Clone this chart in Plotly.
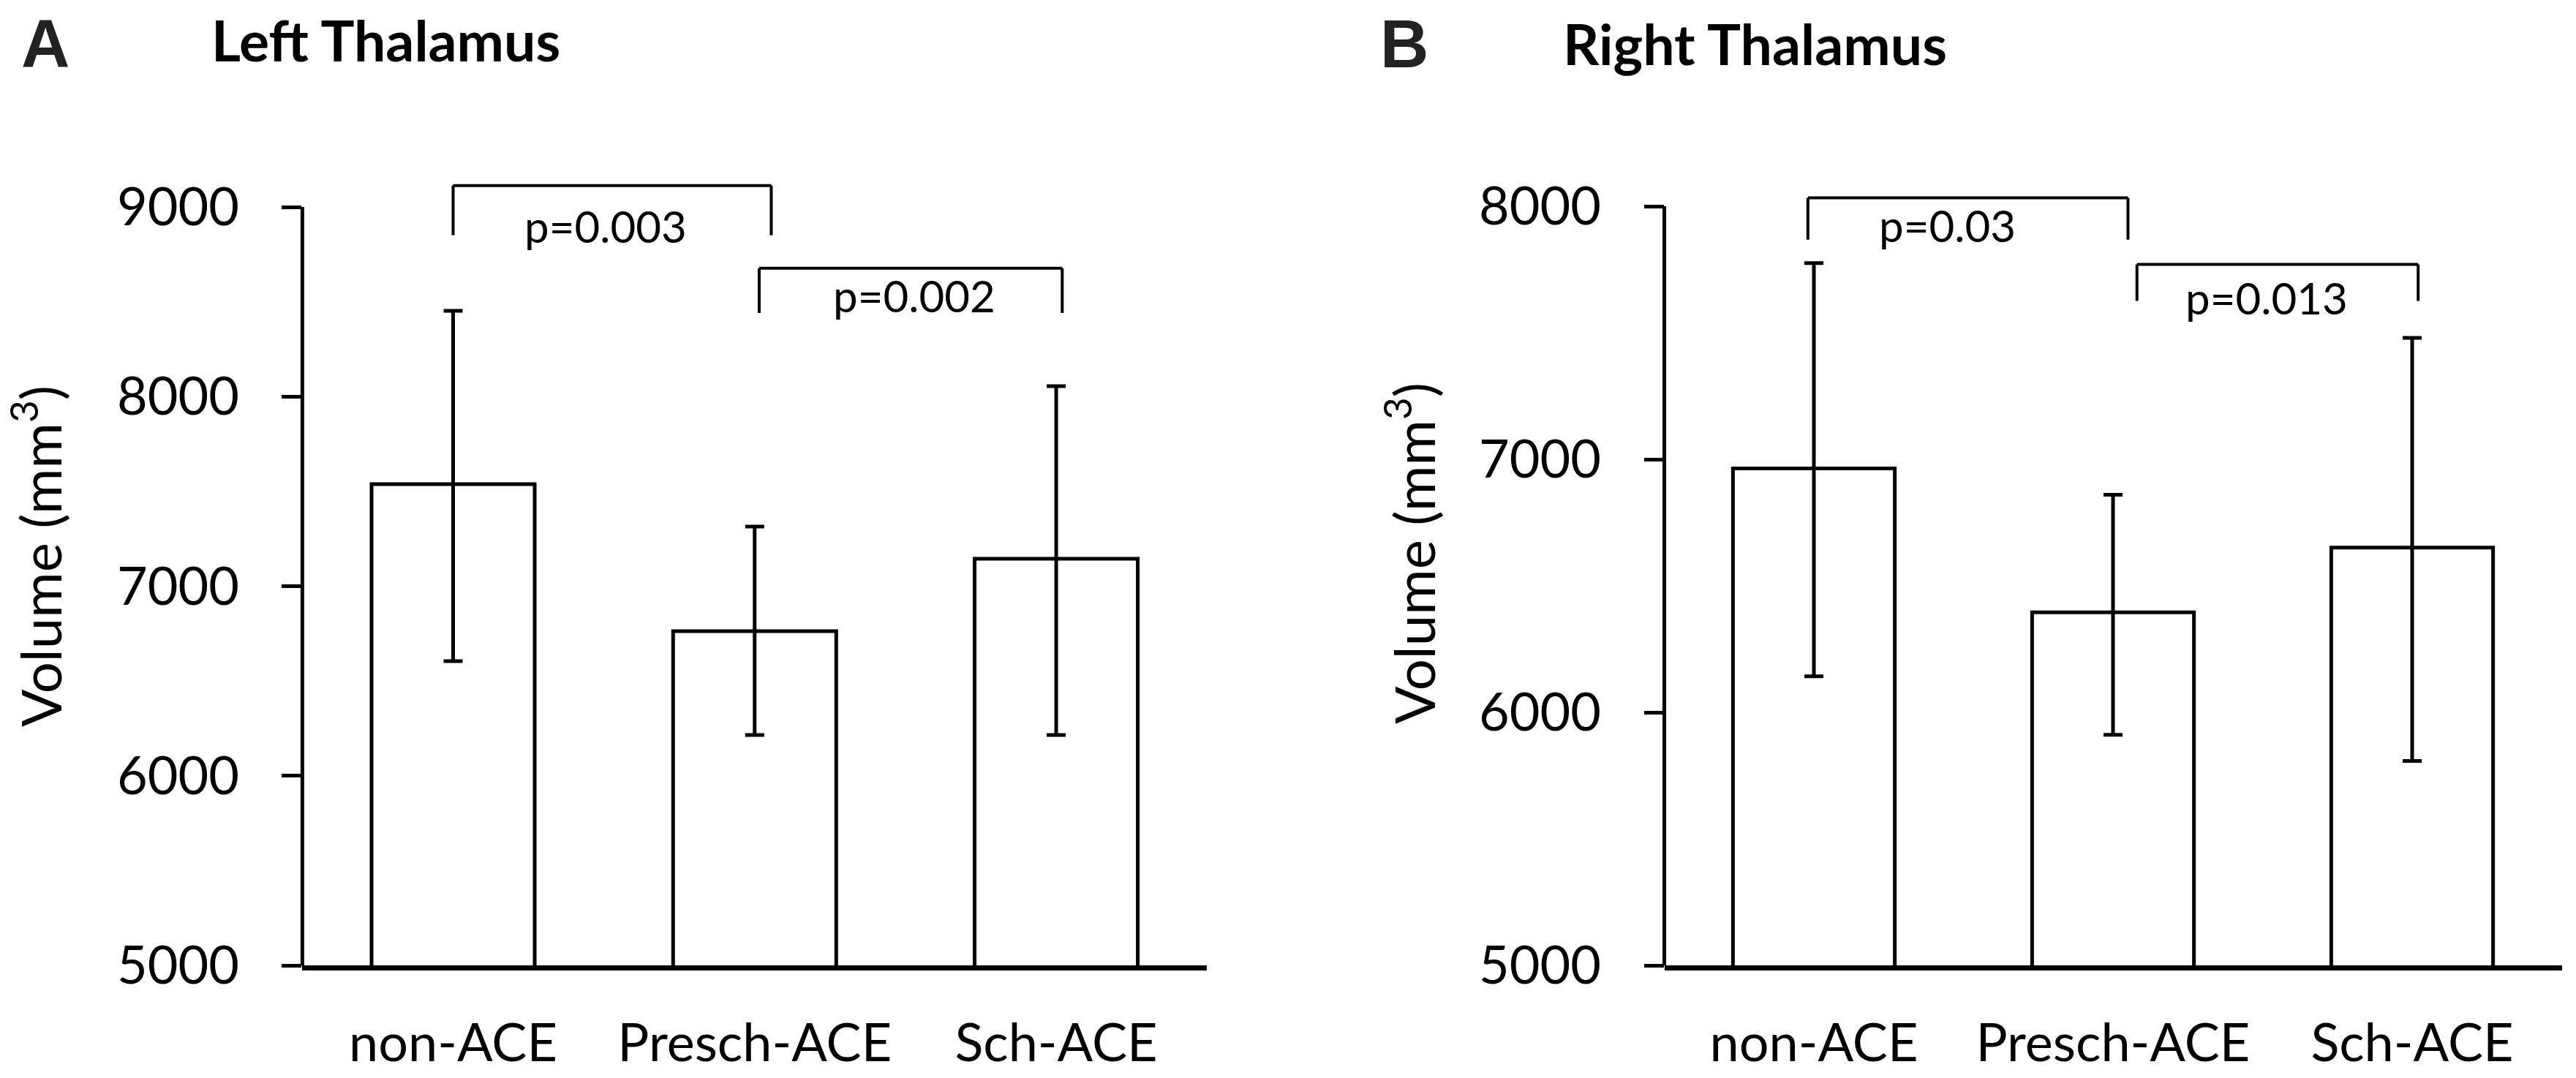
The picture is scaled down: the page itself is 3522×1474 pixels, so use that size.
import plotly.graph_objects as go

# ---------------- data ----------------
categories = ["non-ACE", "Presch-ACE", "Sch-ACE"]

left_mean = [7538, 6763, 7145]
left_err_plus = [914, 551, 910]
left_err_minus = [933, 548, 930]

right_mean = [6964, 6395, 6651]
right_err_plus = [811, 465, 829]
right_err_minus = [822, 484, 843]

left_ticks = [5000, 6000, 7000, 8000, 9000]
right_ticks = [5000, 6000, 7000, 8000]

# significance brackets: (x_start, x_end, y_top, y_drop)
left_brackets = [(0.0, 1.055, 9113, 8851), (1.015, 2.02, 8677, 8441)]
right_brackets = [(-0.02, 1.05, 8033, 7868), (1.08, 2.02, 7770, 7626)]
# p-value labels: (x, y, text)
left_pvals = [(0.506, 8898, "p=0.003"), (1.53, 8533, "p=0.002")]
right_pvals = [(0.447, 7924, "p=0.03"), (1.513, 7638, "p=0.013")]

panel_titles = ["Left Thalamus", "Right Thalamus"]
panel_letters = ["A", "B"]
y_title = "Volume (mm<sup>3</sup>)"

# ---------------- layout constants ----------------
W, H = 3522, 1474
FONT = "Lato"
BLACK = "#000000"
xpos = list(range(len(categories)))

fig = go.Figure()

for i, (mean, ep, em) in enumerate([(left_mean, left_err_plus, left_err_minus),
                                     (right_mean, right_err_plus, right_err_minus)]):
    xa = "x" if i == 0 else "x2"
    ya = "y" if i == 0 else "y2"
    fig.add_trace(go.Bar(
        x=xpos, y=mean, xaxis=xa, yaxis=ya,
        marker=dict(color="white", line=dict(color=BLACK, width=5)),
        error_y=dict(type="data", symmetric=False, array=ep, arrayminus=em,
                     color=BLACK, thickness=5, width=13),
        width=0.541, showlegend=False, hoverinfo="skip",
    ))

axis_common_x = dict(
    tickmode="array", tickvals=xpos, ticktext=categories,
    range=[-0.5, 2.5], showline=True, linecolor=BLACK, linewidth=7,
    ticks="", showgrid=False, zeroline=False, automargin=False,
    tickfont=dict(family=FONT, size=72, color=BLACK),
    ticklabelstandoff=38,
)
axis_common_y = dict(
    showline=False, ticks="outside", ticklen=27, tickwidth=5, tickcolor=BLACK,
    showgrid=False, zeroline=False, tickmode="array", automargin=False,
    tickfont=dict(family=FONT, size=72, color=BLACK),
    ticklabelstandoff=44,
)

ydom = [1 - 1320 / H, 1 - 218.2 / H]
fig.update_layout(
    width=W, height=H, margin=dict(l=0, r=0, t=0, b=0, autoexpand=False),
    paper_bgcolor="white", plot_bgcolor="white",
    xaxis=dict(domain=[413.4 / W, 1650.2 / W], anchor="y", **axis_common_x),
    yaxis=dict(domain=ydom, anchor="x", range=[5000, 9250], tickvals=left_ticks,
               ticktext=[str(t) for t in left_ticks], **axis_common_y),
    xaxis2=dict(domain=[2275.5 / W, 3502.5 / W], anchor="y2", **axis_common_x),
    yaxis2=dict(domain=ydom, anchor="x2", range=[5000, 8184.4], tickvals=right_ticks,
                ticktext=[str(t) for t in right_ticks], **axis_common_y),
)

shapes = []
annotations = []
for i, (brackets, pvals, ticks) in enumerate([(left_brackets, left_pvals, left_ticks),
                                              (right_brackets, right_pvals, right_ticks)]):
    xr = "x" if i == 0 else "x2"
    yr = "y" if i == 0 else "y2"
    # y axis line from lowest to highest tick
    shapes.append(dict(type="line", xref=xr + " domain", yref=yr, x0=0, x1=0,
                       y0=ticks[0], y1=ticks[-1], line=dict(color=BLACK, width=5)))
    for (x0, x1, yt, yd) in brackets:
        for (a, b, c, d) in [(x0, yd, x0, yt), (x0, yt, x1, yt), (x1, yt, x1, yd)]:
            shapes.append(dict(type="line", xref=xr, yref=yr, x0=a, y0=b, x1=c, y1=d,
                               line=dict(color=BLACK, width=4)))
    for (x, y, t) in pvals:
        annotations.append(dict(x=x, y=y, xref=xr, yref=yr, text=t, showarrow=False,
                                xanchor="center", yanchor="middle",
                                font=dict(family=FONT, size=60, color=BLACK)))

# panel letters and titles
annotations += [
    dict(x=27 / W, y=1 - 59 / H, xref="paper", yref="paper", text="<b>" + panel_letters[0] + "</b>",
         showarrow=False, xanchor="left", yanchor="middle",
         font=dict(family="Liberation Sans", size=92, color="#222222")),
    dict(x=1885 / W, y=1 - 60 / H, xref="paper", yref="paper", text="<b>" + panel_letters[1] + "</b>",
         showarrow=False, xanchor="left", yanchor="middle",
         font=dict(family="Liberation Sans", size=92, color="#222222")),
    dict(x=287 / W, y=1 - 54 / H, xref="paper", yref="paper", text="<b>" + panel_titles[0] + "</b>",
         showarrow=False, xanchor="left", yanchor="middle",
         font=dict(family=FONT, size=77, color=BLACK)),
    dict(x=2135 / W, y=1 - 59 / H, xref="paper", yref="paper", text="<b>" + panel_titles[1] + "</b>",
         showarrow=False, xanchor="left", yanchor="middle",
         font=dict(family=FONT, size=77, color=BLACK)),
    dict(x=49 / W, y=1 - 761 / H, xref="paper", yref="paper", text=y_title, textangle=-90,
         showarrow=False, xanchor="center", yanchor="middle",
         font=dict(family=FONT, size=76, color=BLACK)),
    dict(x=1927 / W, y=1 - 757 / H, xref="paper", yref="paper", text=y_title, textangle=-90,
         showarrow=False, xanchor="center", yanchor="middle",
         font=dict(family=FONT, size=76, color=BLACK)),
]

fig.update_layout(shapes=shapes, annotations=annotations)

fig.write_html("out.html", config={"displayModeBar": False},
               post_script="document.body.style.margin='0';document.body.style.overflow='hidden';")
